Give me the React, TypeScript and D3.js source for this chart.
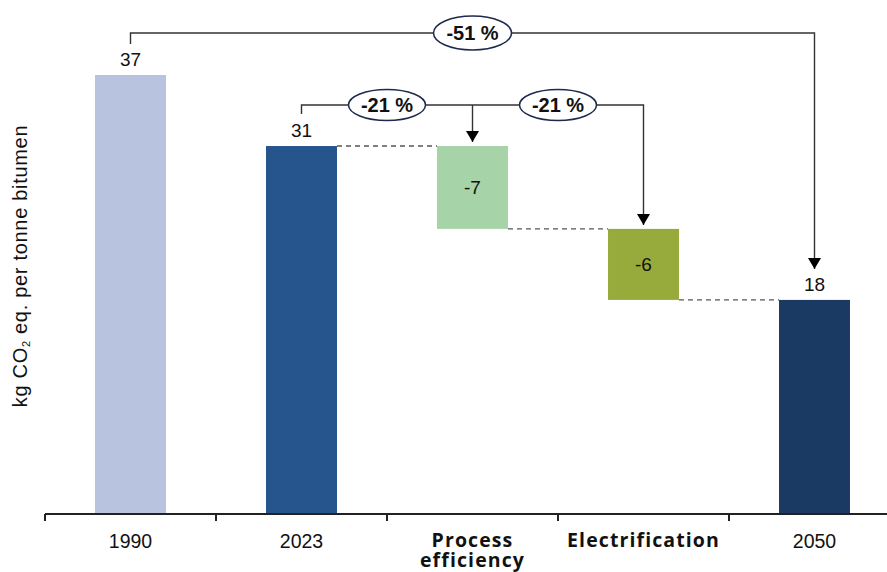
import React from "react";
import * as d3 from "d3";

// Waterfall: emissions intensity path 1990 → 2023 → 2050
const categories = ["1990", "2023", "Process efficiency", "Electrification", "2050"];
const values = [37, 31, -7, -6, 18];
const kinds = ["total", "total", "delta", "delta", "total"];
const barColors = ["#b7c3df", "#26548c", "#a6d3a8", "#97ab3c", "#1b3a63"];
const boldCategory = [false, false, true, true, false];
const changeLabels = ["-51 %", "-21 %", "-21 %"];

const W = 887;
const H = 572;
const axisY = 514;

export default function App() {
  const x = d3.scaleBand<string>().domain(categories).range([45, 900]).padding(0);
  const y = d3.scaleLinear().domain([0, 37]).range([513, 75]);
  const barW = x.bandwidth() * 0.415;
  const cx = (c: string) => (x(c) as number) + x.bandwidth() / 2;

  // running start/end for each step
  let running = 0;
  const bars = categories.map((c, i) => {
    let start: number, end: number;
    if (kinds[i] === "total") {
      start = 0;
      end = values[i];
      running = values[i];
    } else {
      start = running;
      end = running + values[i];
      running = end;
    }
    return { c, i, start, end, v: values[i] };
  });

  const top = (b: { start: number; end: number }) => y(Math.max(b.start, b.end));
  const bottom = (b: { start: number; end: number }) => y(Math.min(b.start, b.end));

  // dashed connectors between consecutive steps (from 2023 on)
  const connectors = [] as { x1: number; x2: number; yv: number }[];
  for (let i = 1; i < bars.length - 1; i++) {
    const b = bars[i];
    const n = bars[i + 1];
    connectors.push({
      x1: cx(b.c) + barW / 2,
      x2: cx(n.c) - barW / 2,
      yv: b.end,
    });
  }

  const arrow = (ax: number, tipY: number) =>
    `M${ax},${tipY} L${ax - 6.5},${tipY - 11} L${ax + 6.5},${tipY - 11} Z`;

  const lineColor = "#333";
  const outerY = 33;
  const innerY = 105;

  const b1990 = bars[0], b2023 = bars[1], bProc = bars[2], bElec = bars[3], b2050 = bars[4];
  const xa = cx(b1990.c), xb = cx(b2050.c);
  const xc = cx(b2023.c), xd = cx(bProc.c), xe = cx(bElec.c);

  const pills = [
    { x: (xa + xb) / 2, y: outerY, rx: 39, ry: 17, t: changeLabels[0] },
    { x: (xc + xd) / 2, y: innerY, rx: 38.5, ry: 15.5, t: changeLabels[1] },
    { x: (xd + xe) / 2, y: innerY, rx: 38.5, ry: 15.5, t: changeLabels[2] },
  ];

  const sans = "'Liberation Sans', Arial, sans-serif";
  const boldFont = "'Open Sans', 'Liberation Sans', sans-serif";

  return (
    <svg
      width={W}
      height={H}
      style={{ position: "absolute", left: 0, top: 0, background: "#fff" }}
    >
      {/* bars */}
      {bars.map((b) => (
        <rect
          key={b.c}
          x={cx(b.c) - barW / 2}
          y={top(b)}
          width={barW}
          height={bottom(b) - top(b)}
          fill={barColors[b.i]}
        />
      ))}

      {/* connectors */}
      {connectors.map((c, i) => (
        <line
          key={i}
          x1={c.x1}
          x2={c.x2}
          y1={y(c.yv)}
          y2={y(c.yv)}
          stroke="#555"
          strokeWidth={1.4}
          strokeDasharray="5,4"
        />
      ))}

      {/* value labels */}
      {bars.map((b) => (
        <text
          key={b.c}
          x={cx(b.c)}
          y={kinds[b.i] === "total" ? top(b) - 9 : (top(b) + bottom(b)) / 2 + 7}
          textAnchor="middle"
          fontFamily={sans}
          fontSize={19}
          fill="#111"
        >
          {b.v}
        </text>
      ))}

      {/* overall change bracket */}
      <path
        d={`M${xa},${top(b1990) - 31} V${outerY} H${xb} V${top(b2050) - 31}`}
        fill="none"
        stroke={lineColor}
        strokeWidth={1.4}
      />
      <path d={arrow(xb, top(b2050) - 31)} fill="#000" />

      {/* step change bracket */}
      <path
        d={`M${xc},${top(b2023) - 32} V${innerY} H${xe} V${top(bElec) - 4}`}
        fill="none"
        stroke={lineColor}
        strokeWidth={1.4}
      />
      <path d={`M${xd},${innerY} V${top(bProc) - 4}`} stroke={lineColor} strokeWidth={1.4} />
      <path d={arrow(xd, top(bProc) - 4)} fill="#000" />
      <path d={arrow(xe, top(bElec) - 4)} fill="#000" />

      {pills.map((p, i) => (
        <g key={i}>
          <ellipse cx={p.x} cy={p.y} rx={p.rx} ry={p.ry} fill="#fff" stroke="#1c2a4e" strokeWidth={1.5} />
          <text
            x={p.x}
            y={p.y + 7}
            textAnchor="middle"
            fontFamily={sans}
            fontWeight="bold"
            fontSize={20}
            fill="#111"
          >
            {p.t}
          </text>
        </g>
      ))}

      {/* x axis */}
      <line x1={45} x2={W} y1={axisY} y2={axisY} stroke="#222" strokeWidth={2} />
      {categories.map((c) => (
        <line
          key={c}
          x1={x(c) as number}
          x2={x(c) as number}
          y1={axisY}
          y2={axisY + 7}
          stroke="#222"
          strokeWidth={2}
        />
      ))}
      {categories.map((c, i) =>
        boldCategory[i] ? (
          c.split(" ").map((w, k) => (
            <text
              key={c + k}
              x={cx(c)}
              y={547 + k * 20}
              textAnchor="middle"
              fontFamily={boldFont}
              fontWeight={700}
              fontSize={19.5}
              letterSpacing={1.1}
              fill="#111"
            >
              {w}
            </text>
          ))
        ) : (
          <text key={c} x={cx(c)} y={548} textAnchor="middle" fontFamily={sans} fontSize={19.5} fill="#111">
            {c}
          </text>
        )
      )}

      {/* y axis title */}
      <text
        transform={`translate(27,266) rotate(-90)`}
        textAnchor="middle"
        fontFamily={sans}
        fontSize={20}
        letterSpacing={0.7}
        fill="#111"
      >
        kg CO
        <tspan fontSize={11} dy={3}>
          2
        </tspan>
        <tspan dy={-3}> eq. per tonne bitumen</tspan>
      </text>
    </svg>
  );
}
